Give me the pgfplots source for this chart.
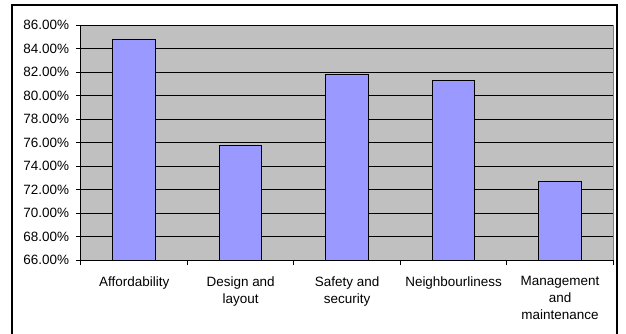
\documentclass[border=0pt]{standalone}
\usepackage{pgfplots}
\pgfplotsset{compat=1.18}
\usepackage{fontspec}
\setmainfont{Liberation Sans}
\definecolor{plotgray}{HTML}{C0C0C0}
\definecolor{barblue}{HTML}{9999FF}
\definecolor{edgegray}{HTML}{808080}
\begin{document}
\begin{tikzpicture}
\useasboundingbox (0,0) rectangle (469.5pt,249.75pt);
% chart frame (runs past the lower edge)
\draw[black, line width=0.9pt] (9pt,246pt) rectangle (462.75pt,-10pt);
\begin{axis}[
  at={(60.75pt,54.5pt)}, anchor=south west,
  scale only axis,
  width=399.2pt, height=176.25pt,
  ymin=66, ymax=86,
  xmin=-0.5, xmax=4.5,
  ytick={66,68,...,86},
  xtick={-0.5,0.5,...,4.5},
  xticklabels={},
  extra x ticks={0,1,2,3,4},
  extra x tick labels={Affordability,{Design and\\layout},{Safety and\\security},Neighbourliness,{Management\\and\\maintenance}},
  extra x tick style={tick style={draw=none}},
  axis lines*=left,
  axis line style={black, line width=0.75pt},
  axis background/.style={fill=plotgray, draw=edgegray, line width=0.75pt},
  ymajorgrids,
  grid style={black, line width=0.75pt},
  tick align=outside,
  major tick length=3.75pt,
  tick style={black, line width=0.75pt},
  font=\fontsize{10.1}{12.8}\selectfont,
  /pgf/number format/assume math mode=true,
  yticklabel={\pgfmathprintnumber[fixed,fixed zerofill,precision=2]{\tick}\%},
  yticklabel style={inner sep=0pt, xshift=-5pt},
  xticklabel style={align=center, inner sep=0pt, anchor=north, yshift=-8pt},
  ybar, bar width=0.4, bar shift=0pt,
]
\addplot[fill=barblue, draw=black, line width=0.75pt]
  coordinates {(0,84.8) (1,75.8) (2,81.8) (3,81.3) (4,72.7)};
\end{axis}
\end{tikzpicture}
\end{document}
